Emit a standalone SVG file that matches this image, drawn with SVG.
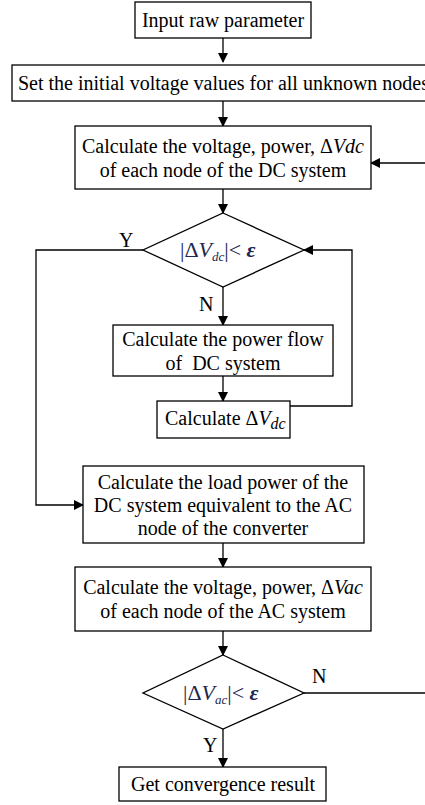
<svg xmlns="http://www.w3.org/2000/svg" width="425" height="805" viewBox="0 0 425 805">
<defs>
<marker id="ah" markerWidth="10" markerHeight="10" refX="9" refY="5" orient="auto" markerUnits="userSpaceOnUse">
<path d="M0,0 L10,5 L0,10 z" fill="#000"/>
</marker>
<style>
.box{fill:#fff;stroke:#000;stroke-width:1.3}
.t{font-family:"Liberation Serif","Times New Roman",serif;font-size:20px;fill:#000;white-space:pre}
.c{text-anchor:middle}
.ln{fill:none;stroke:#000;stroke-width:1.3}
.m{font-family:"Liberation Serif","Times New Roman",serif;fill:#1e2650}
</style>
</defs>
<rect width="425" height="805" fill="#fff"/>
<g id="connectors">
<path class="ln" d="M223,38 V62" marker-end="url(#ah)"/>
<path class="ln" d="M223,101 V126" marker-end="url(#ah)"/>
<path class="ln" d="M223,189 V213" marker-end="url(#ah)"/>
<path class="ln" d="M223,287 V325" marker-end="url(#ah)"/>
<path class="ln" d="M223,376 V401" marker-end="url(#ah)"/>
<path class="ln" d="M290,406 H352 V250 H304" marker-end="url(#ah)"/>
<path class="ln" d="M143,250 H36 V505 H83" marker-end="url(#ah)"/>
<path class="ln" d="M223,543 V567" marker-end="url(#ah)"/>
<path class="ln" d="M223,631 V655" marker-end="url(#ah)"/>
<path class="ln" d="M223,729 V767" marker-end="url(#ah)"/>
<path class="ln" d="M304,693 H425"/>
<path class="ln" d="M425,163 H371" marker-end="url(#ah)"/>
<text class="t" x="119" y="247">Y</text>
<text class="t" x="199" y="311">N</text>
<text class="t" x="312" y="683">N</text>
<text class="t" x="203" y="752">Y</text>
</g>
<g id="n1">
<rect class="box" x="135" y="2" width="176" height="36"/>
<text class="t c" x="223" y="27">Input raw parameter</text>
</g>
<g id="n2">
<rect class="box" x="12" y="65" width="430" height="36"/>
<text class="t" x="18" y="90">Set the initial voltage values for all unknown nodes</text>
</g>
<g id="n3">
<rect class="box" x="75" y="126" width="296" height="63"/>
<text class="t c" x="223" y="153">Calculate the voltage, power, Δ<tspan font-style="italic">Vdc</tspan></text>
<text class="t c" x="223" y="177">of each node of the DC system</text>
</g>
<g id="d1">
<path class="box" d="M223,213 L304,250 L223,287 L143,250 Z"/>
<text class="m" x="180" y="257" font-size="22">|Δ<tspan font-style="italic">V</tspan><tspan font-style="italic" font-size="13" dy="4">dc</tspan><tspan dy="-4">|&lt;</tspan><tspan font-style="italic" font-weight="bold"> ε</tspan></text>
</g>
<g id="n4">
<rect class="box" x="113" y="325" width="220" height="51"/>
<text class="t c" x="223" y="346">Calculate the power flow</text>
<text class="t c" x="223" y="370">of  DC system</text>
</g>
<g id="n5">
<rect class="box" x="157" y="401" width="133" height="37"/>
<text class="t" x="165" y="425">Calculate Δ<tspan font-style="italic">V</tspan><tspan font-style="italic" font-size="16" dy="4">dc</tspan></text>
</g>
<g id="n6">
<rect class="box" x="83" y="466" width="281" height="77"/>
<text class="t c" x="223" y="489">Calculate the load power of the</text>
<text class="t c" x="223" y="512">DC system equivalent to the AC</text>
<text class="t c" x="223" y="535">node of the converter</text>
</g>
<g id="n7">
<rect class="box" x="75" y="567" width="296" height="64"/>
<text class="t c" x="223" y="594">Calculate the voltage, power, Δ<tspan font-style="italic">Vac</tspan></text>
<text class="t c" x="223" y="618">of each node of the AC system</text>
</g>
<g id="d2">
<path class="box" d="M223,655 L304,693 L223,729 L143,693 Z"/>
<text class="m" x="183" y="700" font-size="22">|Δ<tspan font-style="italic">V</tspan><tspan font-style="italic" font-size="13" dy="4">ac</tspan><tspan dy="-4">|&lt;</tspan><tspan font-style="italic" font-weight="bold"> ε</tspan></text>
</g>
<g id="n8">
<rect class="box" x="119" y="767" width="207" height="34"/>
<text class="t c" x="223" y="791">Get convergence result</text>
</g>
</svg>
